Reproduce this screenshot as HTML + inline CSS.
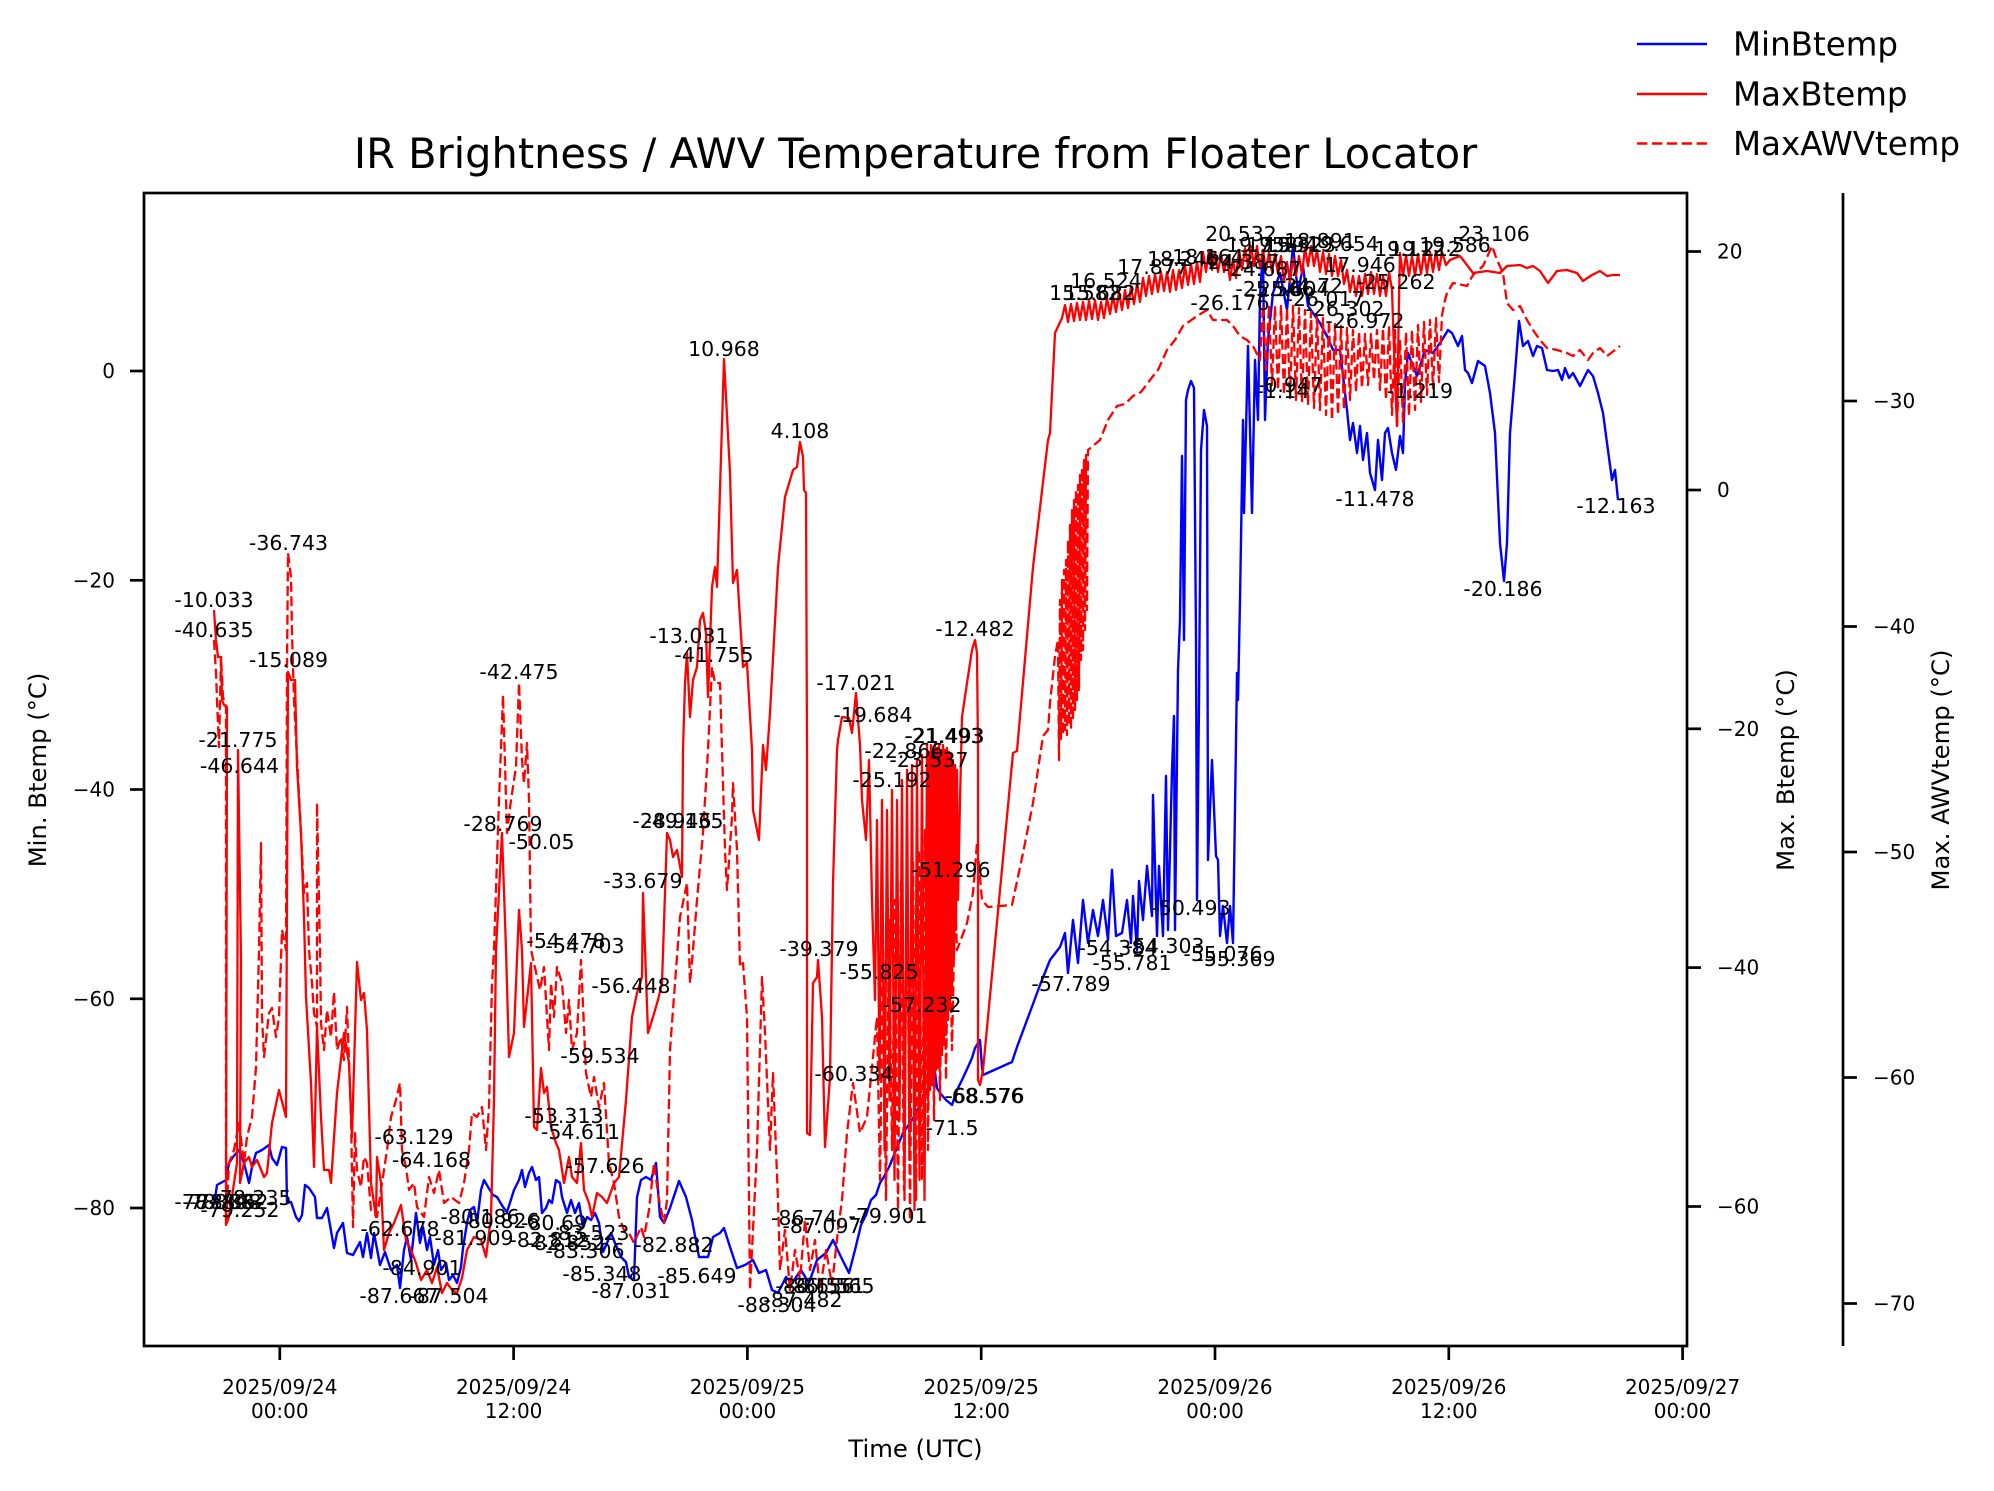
<!DOCTYPE html>
<html><head><meta charset="utf-8"><style>
html,body{margin:0;padding:0;background:#fff;}
svg{display:block;}
text{font-family:"DejaVu Sans","Liberation Sans",sans-serif;fill:#000;}
.tk{font-size:20px;}
.an{font-size:20.5px;text-anchor:middle;}
</style></head><body>
<svg width="1994" height="1491" viewBox="0 0 1994 1491" xmlns="http://www.w3.org/2000/svg">
<rect width="1994" height="1491" fill="#fff"/>
<text x="915.5" y="168" font-size="41.5" text-anchor="middle">IR Brightness / AWV Temperature from Floater Locator</text>
<g fill="none" stroke-linejoin="round" stroke-linecap="butt">
<path stroke="#0000ff" stroke-width="2.4" d="M214,1205 L217,1185 L226,1180 L229,1163 L233,1157 L239,1150 L244,1163 L249,1183 L252,1167 L256,1153 L262,1150 L269,1145 L272,1158 L277,1165 L282,1147 L286,1148 L287,1203 L291,1202 L296,1217 L299,1221 L302,1215 L305,1185 L309,1188 L315,1197 L317,1218 L322,1218 L327,1208 L334,1248 L337,1233 L343,1223 L347,1253 L353,1255 L360,1242 L363,1257 L367,1233 L371,1258 L374,1233 L380,1265 L385,1252 L391,1270 L397,1265 L400,1288 L404,1250 L407,1237 L411,1260 L416,1213 L420,1243 L423,1227 L427,1250 L430,1237 L434,1265 L438,1250 L441,1270 L446,1263 L449,1280 L453,1275 L457,1283 L461,1267 L463,1248 L467,1223 L470,1210 L474,1207 L477,1223 L481,1190 L484,1180 L488,1187 L493,1195 L497,1197 L503,1207 L507,1212 L514,1190 L519,1180 L522,1170 L525,1187 L529,1173 L532,1167 L536,1180 L539,1177 L542,1213 L546,1208 L549,1200 L552,1203 L556,1180 L560,1183 L562,1197 L567,1213 L571,1200 L575,1213 L579,1203 L583,1227 L587,1217 L591,1220 L595,1213 L599,1223 L603,1252 L607,1243 L611,1233 L615,1243 L621,1257 L626,1262 L629,1277 L634,1280 L637,1197 L641,1180 L646,1177 L651,1180 L656,1163 L660,1217 L664,1223 L670,1208 L679,1181 L686,1197 L692,1220 L699,1257 L708,1257 L713,1237 L720,1233 L724,1228 L730,1247 L737,1268 L745,1265 L753,1260 L759,1273 L766,1270 L772,1290 L778,1293 L786,1277 L792,1283 L801,1270 L809,1283 L817,1260 L826,1253 L833,1240 L841,1257 L849,1273 L855,1250 L861,1225 L866,1215 L871,1200 L876,1195 L880,1183 L885,1175 L890,1165 L896,1150 L903,1133 L910,1123 L915,1115 L920,1105 L925,1095 L930,1083 L933,1075 L935,1072 L937,1088 L940,1093 L946,1100 L952,1105 L957,1090 L962,1080 L968,1067 L972,1058 L975,1048 L980,1040 L982,1067 L983,1075 L1012,1062 L1017,1047 L1030,1012 L1040,985 L1050,960 L1060,947 L1065,933 L1068,973 L1073,920 L1078,963 L1083,900 L1088,943 L1093,910 L1098,936 L1103,900 L1108,940 L1112,870 L1116,936 L1122,933 L1127,900 L1131,943 L1133,896 L1137,950 L1139,881 L1143,920 L1147,866 L1152,916 L1153,795 L1157,936 L1159,866 L1163,936 L1166,776 L1168,930 L1172,770 L1174,716 L1175,930 L1178,670 L1180,620 L1182,456 L1184,640 L1186,400 L1188,390 L1191,381 L1194,388 L1196,640 L1197,900 L1199,700 L1201,450 L1204,410 L1207,426 L1208,860 L1212,760 L1216,856 L1218,860 L1220,936 L1223,906 L1227,943 L1230,906 L1233,943 L1237,673 L1238,700 L1240,600 L1243,420 L1244,513 L1248,346 L1252,513 L1255,360 L1258,420 L1260,296 L1263,250 L1265,420 L1268,340 L1273,293 L1280,273 L1287,310 L1293,246 L1298,293 L1303,266 L1308,306 L1313,313 L1320,323 L1327,336 L1333,350 L1340,350 L1347,410 L1350,440 L1353,423 L1357,453 L1360,426 L1363,460 L1367,433 L1370,473 L1375,490 L1378,440 L1382,480 L1385,433 L1388,428 L1392,453 L1396,470 L1400,436 L1403,453 L1405,383 L1408,353 L1417,376 L1425,350 L1433,353 L1442,340 L1448,330 L1452,333 L1458,346 L1462,336 L1465,370 L1468,373 L1472,383 L1478,361 L1485,366 L1490,393 L1495,433 L1500,543 L1504,581 L1507,543 L1510,433 L1515,373 L1519,321 L1523,346 L1528,341 L1533,356 L1537,346 L1542,348 L1547,370 L1553,371 L1558,370 L1562,380 L1565,368 L1569,378 L1573,373 L1580,386 L1588,370 L1593,376 L1598,393 L1603,413 L1607,443 L1612,480 L1615,470 L1618,500"/>
<path stroke="#ff0000" stroke-width="2.3" d="M214,610 L216,640 L218,657 L221,657 L222,700 L224,705 L227,707 L226,1225 L229,1217 L234,1183 L237,1163 L238,750 L241,960 L240,1183 L244,1163 L249,1157 L252,1167 L257,1160 L264,1177 L267,1173 L272,1123 L279,1090 L286,1117 L288,672 L291,680 L295,680 L297,767 L301,833 L304,917 L306,997 L311,1083 L314,1167 L317,1027 L321,1117 L324,1170 L329,1170 L331,1183 L337,1093 L344,1033 L349,1063 L352,1137 L357,962 L361,1000 L364,993 L367,1030 L371,1183 L376,1217 L377,1157 L381,1183 L384,1250 L389,1233 L394,1223 L401,1205 L406,1240 L411,1250 L416,1263 L421,1280 L427,1270 L432,1283 L437,1267 L442,1293 L447,1283 L452,1290 L457,1293 L462,1278 L467,1250 L474,1237 L481,1240 L486,1257 L491,1217 L494,1100 L496,950 L502,833 L506,950 L509,1057 L514,1033 L519,910 L522,950 L524,1027 L531,963 L534,1127 L537,1130 L541,1068 L544,1093 L547,1087 L551,1127 L556,1143 L559,1150 L564,1183 L569,1157 L572,1177 L577,1183 L581,1143 L584,1190 L589,1203 L592,1217 L597,1193 L602,1197 L607,1203 L614,1183 L619,1177 L626,1100 L632,1017 L637,993 L642,977 L643,893 L648,1033 L653,1017 L658,1000 L662,983 L667,833 L670,840 L673,857 L677,850 L682,877 L683,750 L685,683 L687,653 L690,717 L693,680 L697,667 L700,620 L703,613 L706,633 L708,697 L712,587 L715,567 L717,587 L724,359 L730,473 L733,583 L737,570 L743,667 L747,663 L752,750 L753,810 L759,840 L763,745 L766,770 L770,713 L778,567 L785,497 L793,470 L797,467 L800,442 L803,457 L804,490 L806,493 L807,750 L807,1133 L810,1135 L813,983 L817,977 L818,960 L822,1017 L825,1147 L830,1077 L833,883 L837,750 L838,740 L842,717 L849,718 L852,733 L856,693 L860,745 L862,800 L866,840 L869,760 L872,900 L875,1000 L877,820 L879.5,1080 L882,800 L884.5,1150 L887,810 L889.5,1100 L892,790 L894.5,1180 L897,800 L899.5,1120 L902,780 L904.5,1200 L907,770 L909.5,1160 L912,765 L914.5,1210 L917,760 L919.5,1180 L922,755 L924.5,1200 L927,745 L928,1100 L929,752 L930,1090 L931,745 L932,1085 L933,750 L934,1080 L935,742 L936,1070 L937,748 L938,1068 L939,745 L940,1060 L941,750 L942,1055 L943,745 L944,1045 L945,750 L946,1035 L947,748 L948,1020 L949,752 L950,1010 L951,755 L952,990 L953,760 L954,960 L955,765 L956,930 L957,770 L958,900 L960,800 L962,717 L967,683 L972,650 L975,640 L977,653 L978,750 L978,1080 L980,1085 L983,1070 L1013,753 L1017,751 L1033,567 L1048,440 L1050,433 L1055,333 L1062,318 L1065,305 L1068,322 L1071,304 L1074,321 L1077,303 L1080,320 L1083,302 L1086,320 L1089,301 L1092,319 L1095,300 L1098,320 L1101,302 L1104,318 L1107,298 L1110,314 L1113,296 L1116,312 L1119,292 L1122,310 L1125,290 L1128,308 L1131,287 L1134,304 L1137,284 L1140,302 L1143,278 L1146,296 L1149,276 L1152,294 L1155,274 L1158,292 L1161,272 L1164,291 L1167,272 L1170,292 L1173,270 L1176,290 L1179,270 L1182,288 L1185,266 L1188,285 L1191,264 L1194,284 L1197,262 L1200,282 L1203,252 L1206,272 L1209,250 L1212,270 L1215,252 L1218,272 L1221,254 L1224,272 L1227,258 L1230,280 L1233,260 L1236,278 L1239,250 L1242,270 L1245,248 L1248,266 L1251,246 L1254,266 L1257,246 L1260,268 L1263,250 L1266,270 L1269,252 L1272,272 L1275,254 L1278,274 L1281,256 L1284,282 L1287,262 L1290,282 L1293,258 L1296,276 L1299,256 L1302,274 L1305,248 L1308,266 L1311,246 L1314,266 L1317,250 L1320,272 L1323,252 L1326,274 L1329,254 L1332,276 L1335,256 L1338,276 L1341,260 L1344,284 L1347,270 L1350,292 L1353,276 L1356,296 L1359,276 L1362,296 L1365,274 L1368,294 L1371,272 L1374,294 L1377,274 L1380,296 L1383,276 L1386,296 L1389,272 L1392,290 L1395,380 L1397,426 L1399,300 L1400,253 L1403,276 L1406,255 L1409,276 L1412,256 L1415,276 L1418,254 L1421,274 L1424,253 L1427,273 L1430,252 L1433,272 L1436,251 L1439,270 L1442,252 L1446,265 L1450,260 L1460,256 L1467,265 L1473,273 L1487,271 L1500,273 L1507,266 L1520,265 L1527,268 L1533,266 L1540,271 L1548,283 L1557,271 L1567,270 L1577,273 L1583,281 L1592,275 L1600,271 L1607,276 L1613,275 L1620,275"/>
<path stroke="#ff0000" stroke-width="2.3" stroke-dasharray="10 4.4" d="M214,640 L216,673 L217,700 L219,747 L221,657 L223,697 L226,707 L226,1223 L229,1163 L234,1150 L239,1123 L244,1163 L247,1137 L252,1117 L256,1067 L259,950 L261,843 L262,1017 L264,1057 L269,1013 L272,1008 L276,1037 L279,1017 L282,930 L286,950 L287,667 L288,553 L291,577 L292,633 L294,700 L301,833 L304,893 L307,883 L309,950 L312,983 L314,1013 L317,1027 L317,803 L320,950 L321,1023 L324,1050 L327,1010 L331,1037 L334,992 L337,1050 L341,1037 L344,1060 L347,1007 L351,1117 L353,1227 L355,1133 L357,1170 L361,1187 L364,1157 L367,1163 L371,1210 L377,1217 L382,1183 L387,1150 L391,1117 L396,1100 L400,1083 L402,1150 L406,1167 L409,1190 L414,1183 L417,1207 L424,1217 L429,1177 L434,1193 L439,1170 L444,1203 L451,1197 L459,1203 L464,1183 L469,1150 L472,1113 L477,1117 L482,1107 L486,1150 L489,1107 L492,983 L494,950 L499,800 L503,695 L507,833 L511,800 L516,767 L519,683 L522,760 L524,783 L527,743 L529,800 L531,950 L540,990 L544,967 L547,1017 L549,1050 L551,983 L554,1017 L557,967 L562,983 L566,1033 L569,1000 L572,1050 L577,1033 L581,960 L586,1073 L591,1097 L594,1077 L599,1107 L604,1083 L609,1163 L614,1183 L619,1217 L624,1230 L629,1233 L634,1243 L641,1227 L644,1237 L649,1210 L654,1163 L659,1200 L664,1223 L667,1200 L670,1050 L675,983 L680,917 L687,883 L690,983 L693,950 L697,900 L703,833 L708,750 L712,667 L715,683 L720,683 L722,750 L725,850 L727,890 L732,817 L733,783 L737,850 L740,967 L743,963 L747,1017 L750,1290 L753,1230 L757,1150 L762,977 L765,1033 L770,1150 L773,1073 L778,1200 L780,1270 L785,1230 L790,1290 L795,1250 L800,1280 L805,1220 L810,1270 L815,1240 L820,1290 L826,1250 L832,1285 L838,1230 L842,1200 L847,1133 L853,1083 L860,1133 L867,1117 L872,1067 L877,1017 L880,1180 L883,950 L886,1200 L889,920 L892,1150 L895,900 L898,1210 L901,880 L904,1190 L907,870 L910,1220 L913,860 L916,1200 L919,850 L922,1180 L925,830 L928,1150 L931,820 L934,1120 L937,810 L940,1100 L943,830 L946,1080 L949,860 L952,1050 L955,900 L957,950 L967,923 L973,893 L977,843 L982,900 L988,907 L1012,905 L1023,853 L1033,803 L1043,736 L1048,730 L1050,703 L1055,656 L1058,640 L1059,760 L1060,600 L1061,740 L1062,580 L1063,735 L1064,570 L1065,730 L1066,560 L1067,735 L1068,540 L1069,725 L1070,525 L1071,730 L1072,510 L1073,720 L1074,500 L1075,710 L1076,490 L1077,700 L1078,485 L1079,690 L1080,475 L1081,660 L1082,468 L1083,650 L1084,460 L1085,630 L1086,455 L1087,610 L1088,450 L1100,440 L1108,420 L1117,406 L1125,404 L1133,396 L1141,392 L1150,380 L1158,370 L1167,350 L1175,340 L1183,326 L1197,316 L1207,310 L1213,320 L1227,320 L1233,326 L1240,336 L1247,340 L1253,346 L1260,360 L1263,305 L1266,370 L1269,305 L1272,385 L1275,306 L1278,390 L1281,306 L1284,395 L1287,308 L1290,398 L1293,306 L1296,400 L1299,308 L1302,402 L1305,310 L1308,405 L1311,312 L1314,408 L1317,315 L1320,410 L1323,318 L1326,415 L1329,320 L1332,420 L1335,324 L1338,415 L1341,326 L1344,410 L1347,328 L1350,400 L1353,330 L1356,392 L1359,332 L1362,388 L1365,334 L1368,385 L1371,334 L1374,380 L1377,330 L1380,390 L1383,328 L1386,400 L1389,326 L1392,415 L1395,330 L1397,428 L1400,340 L1403,422 L1406,332 L1409,416 L1412,330 L1415,410 L1418,325 L1421,402 L1424,322 L1427,395 L1430,320 L1433,388 L1436,318 L1439,382 L1442,315 L1445,300 L1447,293 L1453,283 L1467,286 L1473,275 L1483,266 L1492,246 L1497,260 L1503,273 L1507,303 L1513,310 L1520,306 L1527,320 L1533,330 L1540,340 L1547,348 L1557,350 L1567,353 L1573,356 L1580,350 L1588,360 L1593,353 L1600,348 L1607,356 L1615,350 L1620,346"/>
</g>
<g class="an">
<text class="an" x="214" y="607">-10.033</text>
<text class="an" x="214" y="637">-40.635</text>
<text class="an" x="288.5" y="550">-36.743</text>
<text class="an" x="288.5" y="667">-15.089</text>
<text class="an" x="238" y="747">-21.775</text>
<text class="an" x="239.5" y="773">-46.644</text>
<text class="an" x="519" y="679">-42.475</text>
<text class="an" x="503" y="831">-28.769</text>
<text class="an" x="541.5" y="849">-50.05</text>
<text class="an" x="643" y="888">-33.679</text>
<text class="an" x="566" y="948">-54.478</text>
<text class="an" x="585" y="953">-54.703</text>
<text class="an" x="631" y="993">-56.448</text>
<text class="an" x="600" y="1063">-59.534</text>
<text class="an" x="564" y="1123">-53.313</text>
<text class="an" x="580.5" y="1139">-54.611</text>
<text class="an" x="605" y="1173">-57.626</text>
<text class="an" x="414" y="1144">-63.129</text>
<text class="an" x="431.5" y="1167">-64.168</text>
<text class="an" x="252" y="1205">-78.235</text>
<text class="an" x="214" y="1209">-78.808</text>
<text class="an" x="222" y="1209">-78.898</text>
<text class="an" x="229" y="1209">-78.862</text>
<text class="an" x="240" y="1217">-79.252</text>
<text class="an" x="400" y="1236">-62.678</text>
<text class="an" x="480" y="1224">-80.186</text>
<text class="an" x="500" y="1228">-80.826</text>
<text class="an" x="554" y="1230">-80.69</text>
<text class="an" x="474" y="1245">-81.909</text>
<text class="an" x="549" y="1247">-82.812</text>
<text class="an" x="566" y="1250">-82.852</text>
<text class="an" x="590" y="1240">-83.523</text>
<text class="an" x="585" y="1258">-83.306</text>
<text class="an" x="674" y="1252">-82.882</text>
<text class="an" x="422" y="1275">-84.901</text>
<text class="an" x="399" y="1303">-87.667</text>
<text class="an" x="449" y="1303">-87.504</text>
<text class="an" x="602" y="1281">-85.348</text>
<text class="an" x="631" y="1298">-87.031</text>
<text class="an" x="697" y="1283">-85.649</text>
<text class="an" x="777" y="1312">-88.304</text>
<text class="an" x="803" y="1307">-87.482</text>
<text class="an" x="804" y="1225">-86.74</text>
<text class="an" x="822" y="1233">-87.097</text>
<text class="an" x="888" y="1223">-79.901</text>
<text class="an" x="815" y="1293">-86.156</text>
<text class="an" x="825" y="1293">-86.551</text>
<text class="an" x="835" y="1293">-86.565</text>
<text class="an" x="724" y="356">10.968</text>
<text class="an" x="800" y="438">4.108</text>
<text class="an" x="689" y="643">-13.031</text>
<text class="an" x="714" y="662">-41.755</text>
<text class="an" x="975" y="636">-12.482</text>
<text class="an" x="856" y="690">-17.021</text>
<text class="an" x="873" y="722">-19.684</text>
<text class="an" x="944" y="743">-21.493</text>
<text class="an" x="945" y="743">-21.493</text>
<text class="an" x="904" y="758">-22.866</text>
<text class="an" x="929" y="767">-23.537</text>
<text class="an" x="892" y="787">-25.192</text>
<text class="an" x="672" y="828">-28.946</text>
<text class="an" x="684" y="828">-49.135</text>
<text class="an" x="951" y="877">-51.296</text>
<text class="an" x="819" y="956">-39.379</text>
<text class="an" x="879" y="979">-55.825</text>
<text class="an" x="922" y="1012">-57.232</text>
<text class="an" x="854" y="1081">-60.334</text>
<text class="an" x="984" y="1103">-68.576</text>
<text class="an" x="985" y="1103">-68.576</text>
<text class="an" x="952" y="1135">-71.5</text>
<text class="an" x="1071" y="991">-57.789</text>
<text class="an" x="1118" y="955">-54.384</text>
<text class="an" x="1165" y="953">-54.303</text>
<text class="an" x="1132" y="970">-55.781</text>
<text class="an" x="1191" y="915">-50.493</text>
<text class="an" x="1223" y="961">-55.076</text>
<text class="an" x="1236" y="966">-55.369</text>
<text class="an" x="1085" y="300">15.582</text>
<text class="an" x="1100" y="300">15.682</text>
<text class="an" x="1106" y="288">16.524</text>
<text class="an" x="1153" y="274">17.877</text>
<text class="an" x="1183" y="266">18.246</text>
<text class="an" x="1208" y="264">18.164</text>
<text class="an" x="1241" y="241">20.532</text>
<text class="an" x="1240" y="269">-24.387</text>
<text class="an" x="1262" y="276">-24.687</text>
<text class="an" x="1262" y="252">19.758</text>
<text class="an" x="1282" y="252">19.594</text>
<text class="an" x="1300" y="252">19.323</text>
<text class="an" x="1320" y="248">18.891</text>
<text class="an" x="1343" y="251">19.654</text>
<text class="an" x="1360" y="272">17.946</text>
<text class="an" x="1410" y="256">19.112</text>
<text class="an" x="1425" y="256">19.212</text>
<text class="an" x="1455" y="252">19.586</text>
<text class="an" x="1494" y="241">23.106</text>
<text class="an" x="1396" y="289">-25.262</text>
<text class="an" x="1230" y="310">-26.176</text>
<text class="an" x="1275" y="296">-25.566</text>
<text class="an" x="1290" y="296">-25.604</text>
<text class="an" x="1310" y="293">-24.72</text>
<text class="an" x="1325" y="306">-26.017</text>
<text class="an" x="1345" y="316">-26.302</text>
<text class="an" x="1365" y="328">-26.972</text>
<text class="an" x="1290" y="392">-0.947</text>
<text class="an" x="1283" y="398">-1.14</text>
<text class="an" x="1420" y="398">-1.219</text>
<text class="an" x="1375" y="506">-11.478</text>
<text class="an" x="1503" y="596">-20.186</text>
<text class="an" x="1616" y="513">-12.163</text>
</g>
<g fill="none" stroke="#000" stroke-width="2.7">
<rect x="144" y="193" width="1543" height="1153"/>
<line x1="1843" y1="193" x2="1843" y2="1346"/>
<line x1="130" y1="371" x2="144" y2="371"/>
<line x1="130" y1="580.3" x2="144" y2="580.3"/>
<line x1="130" y1="789.5" x2="144" y2="789.5"/>
<line x1="130" y1="998.8" x2="144" y2="998.8"/>
<line x1="130" y1="1208" x2="144" y2="1208"/>
<line x1="1687" y1="251.5" x2="1701" y2="251.5"/>
<line x1="1687" y1="490" x2="1701" y2="490"/>
<line x1="1687" y1="728.8" x2="1701" y2="728.8"/>
<line x1="1687" y1="967.6" x2="1701" y2="967.6"/>
<line x1="1687" y1="1206.5" x2="1701" y2="1206.5"/>
<line x1="1843" y1="401" x2="1857" y2="401"/>
<line x1="1843" y1="626.5" x2="1857" y2="626.5"/>
<line x1="1843" y1="852" x2="1857" y2="852"/>
<line x1="1843" y1="1077.5" x2="1857" y2="1077.5"/>
<line x1="1843" y1="1303.5" x2="1857" y2="1303.5"/>
<line x1="279.8" y1="1346" x2="279.8" y2="1360"/>
<line x1="513.6" y1="1346" x2="513.6" y2="1360"/>
<line x1="747.4" y1="1346" x2="747.4" y2="1360"/>
<line x1="981.2" y1="1346" x2="981.2" y2="1360"/>
<line x1="1215" y1="1346" x2="1215" y2="1360"/>
<line x1="1448.8" y1="1346" x2="1448.8" y2="1360"/>
<line x1="1682.6" y1="1346" x2="1682.6" y2="1360"/>
</g>
<g class="tk" text-anchor="end">
<text class="tk" x="115" y="378">0</text>
<text class="tk" x="115" y="587.3">−20</text>
<text class="tk" x="115" y="796.5">−40</text>
<text class="tk" x="115" y="1005.8">−60</text>
<text class="tk" x="115" y="1215">−80</text>
</g>
<g class="tk">
<text class="tk" x="1717" y="258.5">20</text>
<text class="tk" x="1717" y="497">0</text>
<text class="tk" x="1717" y="735.8">−20</text>
<text class="tk" x="1717" y="974.6">−40</text>
<text class="tk" x="1717" y="1213.5">−60</text>
<text class="tk" x="1873" y="408">−30</text>
<text class="tk" x="1873" y="633.5">−40</text>
<text class="tk" x="1873" y="859">−50</text>
<text class="tk" x="1873" y="1084.5">−60</text>
<text class="tk" x="1873" y="1310.5">−70</text>
</g>
<g class="tk" text-anchor="middle">
<text class="tk" x="279.8" y="1394">2025/09/24</text><text class="tk" x="279.8" y="1418">00:00</text>
<text class="tk" x="513.6" y="1394">2025/09/24</text><text class="tk" x="513.6" y="1418">12:00</text>
<text class="tk" x="747.4" y="1394">2025/09/25</text><text class="tk" x="747.4" y="1418">00:00</text>
<text class="tk" x="981.2" y="1394">2025/09/25</text><text class="tk" x="981.2" y="1418">12:00</text>
<text class="tk" x="1215" y="1394">2025/09/26</text><text class="tk" x="1215" y="1418">00:00</text>
<text class="tk" x="1448.8" y="1394">2025/09/26</text><text class="tk" x="1448.8" y="1418">12:00</text>
<text class="tk" x="1682.6" y="1394">2025/09/27</text><text class="tk" x="1682.6" y="1418">00:00</text>
</g>
<text x="915.5" y="1457" font-size="24.3" text-anchor="middle">Time (UTC)</text>
<text transform="translate(46,770) rotate(-90)" font-size="24.3" text-anchor="middle">Min. Btemp (°C)</text>
<text transform="translate(1794,770) rotate(-90)" font-size="24.3" text-anchor="middle">Max. Btemp (°C)</text>
<text transform="translate(1949,770) rotate(-90)" font-size="24.3" text-anchor="middle">Max. AWVtemp (°C)</text>
<line x1="1637" y1="44" x2="1707" y2="44" stroke="#0000ff" stroke-width="2.4"/>
<line x1="1637" y1="94" x2="1707" y2="94" stroke="#ff0000" stroke-width="2.4"/>
<line x1="1637" y1="143.5" x2="1707" y2="143.5" stroke="#ff0000" stroke-width="2.4" stroke-dasharray="10.4 4.5"/>
<text x="1733" y="55.5" font-size="32.5">MinBtemp</text>
<text x="1733" y="105.5" font-size="32.5">MaxBtemp</text>
<text x="1733" y="155" font-size="32.5">MaxAWVtemp</text>
</svg>
</body></html>
